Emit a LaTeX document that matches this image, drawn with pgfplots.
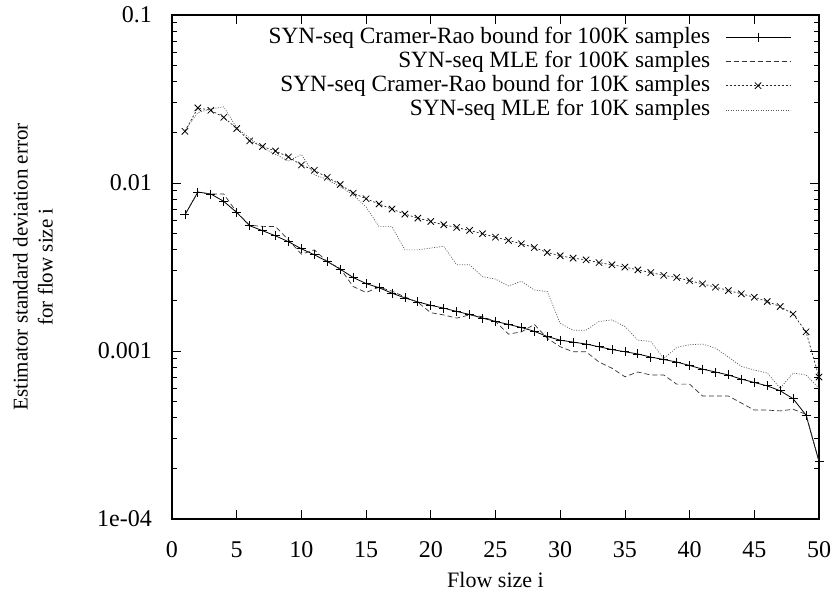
\documentclass[border=0pt]{standalone}
\usepackage{fontspec}
\setmainfont{Liberation Serif}
\usepackage{pgfplots}
\pgfplotsset{compat=1.18}
\usepackage{pgfplotstable}

\pgfplotstableread{
i v
1 0.00647
2 0.00884
3 0.0086
4 0.00778
5 0.00668
6 0.00557
7 0.0052
8 0.00485
9 0.00447
10 0.00406
11 0.00374
12 0.00341
13 0.00307
14 0.00274
15 0.00252
16 0.00238
17 0.00221
18 0.00207
19 0.00196
20 0.00187
21 0.00180
22 0.00172
23 0.00165
24 0.00157
25 0.00150
26 0.00144
27 0.00138
28 0.00131
29 0.00122
30 0.00116
31 0.00113
32 0.00110
33 0.00106
34 0.00102
35 0.00099
36 0.00096
37 0.00092
38 0.00089
39 0.00086
40 0.00082
41 0.00078
42 0.00075
43 0.00072
44 0.00068
45 0.00065
46 0.00062
47 0.00058
48 0.00052
49 0.000415
50 0.00022
}\crhk

\pgfplotstableread{
i v
1 0.00647
2 0.0088
3 0.0086
4 0.0086
5 0.0067
6 0.0056
7 0.00552
8 0.0055
9 0.00459
10 0.00377
11 0.0040
12 0.0034
13 0.0031
14 0.00242
15 0.00223
16 0.0024
17 0.00227
18 0.0021
19 0.00195
20 0.00169
21 0.00164
22 0.00157
23 0.00164
24 0.0016
25 0.0015
26 0.00126
27 0.0013
28 0.00144
29 0.00119
30 0.00106
31 0.00099
32 0.00099
33 0.00086
34 0.00079
35 0.000703
36 0.00075
37 0.00072
38 0.00072
39 0.000635
40 0.000635
41 0.00054
42 0.00054
43 0.00054
44 0.00049
45 0.000445
46 0.000445
47 0.00044
48 0.00045
49 0.00042
50 0.00022
}\mlehk

\pgfplotstableread{
i v
1 0.0203
2 0.028
3 0.0271
4 0.0246
5 0.0211
6 0.0178
7 0.0165
8 0.0155
9 0.0143
10 0.0128
11 0.0119
12 0.0108
13 0.0098
14 0.0087
15 0.00806
16 0.0075
17 0.0070
18 0.00653
19 0.00618
20 0.0059
21 0.00564
22 0.00544
23 0.00522
24 0.00499
25 0.00476
26 0.00455
27 0.00435
28 0.00413
29 0.00386
30 0.00369
31 0.00357
32 0.00349
33 0.00336
34 0.00326
35 0.00316
36 0.00304
37 0.00293
38 0.00282
39 0.00274
40 0.00262
41 0.00251
42 0.0024
43 0.00229
44 0.00219
45 0.00209
46 0.00197
47 0.00184
48 0.00166
49 0.0013
50 0.0007
}\crtk

\pgfplotstableread{
i v
1 0.0206
2 0.0262
3 0.0276
4 0.0284
5 0.0213
6 0.0185
7 0.0162
8 0.0148
9 0.0135
10 0.0148
11 0.0112
12 0.0105
13 0.0095
14 0.0085
15 0.0072
16 0.0055
17 0.0055
18 0.0040
19 0.0040
20 0.0041
21 0.0042
22 0.00326
23 0.00326
24 0.00277
25 0.00268
26 0.00244
27 0.0026
28 0.00231
29 0.00226
30 0.00146
31 0.00133
32 0.00133
33 0.0015
34 0.00153
35 0.0014
36 0.00116
37 0.00114
38 0.0009
39 0.00105
40 0.00109
41 0.0011
42 0.00104
43 0.00092
44 0.00081
45 0.00077
46 0.00074
47 0.0006
48 0.00074
49 0.00072
50 0.0006
}\mletk

\begin{document}
\fontsize{24bp}{28bp}\selectfont
\begin{tikzpicture}
\begin{axis}[
  name=ax,
  scale only axis,
  width=647bp, height=504bp,
  xmin=0, xmax=50,
  ymode=log, ymin=1e-4, ymax=0.1,
  xtick={0,5,...,50},
  ytick={0.0001,0.001,0.01,0.1},
  yticklabels={1e-04,0.001,0.01,0.1},
  tick align=inside,
  major tick length=9bp,
  minor tick length=5bp,
  axis line style={line width=1.1pt},
  every tick/.style={black, line width=0.8pt},
  /pgf/number format/assume math mode=true,
  tick label style={font=\fontsize{24bp}{28bp}\selectfont},
  xticklabel style={yshift=-14.5bp},
  yticklabel style={xshift=-12bp},
  xlabel={Flow size i},
  ylabel={Estimator standard deviation error\\for flow size i},
  xlabel style={font=\fontsize{22bp}{25bp}\selectfont, inner sep=0pt, at={(rel axis cs:0.5,-0.121)}, anchor=center},
  ylabel style={font=\fontsize{21bp}{25bp}\selectfont, align=center, at={(rel axis cs:-0.2148,0.5)}, anchor=center},
  legend cell align=right,
  legend plot pos=right,
  legend style={draw=none, fill=none, at={(rel axis cs:0.9567,0.978)}, anchor=north east,
    font=\fontsize{23.3bp}{28bp}\selectfont, inner sep=0pt, outer sep=0pt,
    row sep=2.3bp, column sep=15bp,
    nodes={inner sep=0pt, text height=17bp, text depth=5bp}},
  legend image code/.code={%
    \draw[mark repeat=2,mark phase=2,#1] plot coordinates {(0bp,0bp) (32.5bp,0bp) (65bp,0bp)};},
]
\addplot[black, line width=0.8pt, mark=+, mark size=4.5bp, mark options={solid, line width=0.8pt}] table[x=i,y=v] {\crhk};
\addlegendentry{SYN-seq Cramer-Rao bound for 100K samples}
\addplot[black!80, line width=0.7pt, dash pattern=on 5bp off 3bp] table[x=i,y=v] {\mlehk};
\addlegendentry{SYN-seq MLE for 100K samples}
\addplot[black!85, line width=0.7pt, dash pattern=on 2bp off 2bp, mark=x, mark size=4.5bp, mark options={solid, line width=0.8pt, black}] table[x=i,y=v] {\crtk};
\addlegendentry{SYN-seq Cramer-Rao bound for 10K samples}
\addplot[black!65, line width=0.7pt, dash pattern=on 1bp off 1.5bp] table[x=i,y=v] {\mletk};
\addlegendentry{SYN-seq MLE for 10K samples}
\end{axis}
\pgfresetboundingbox
\path[use as bounding box] ([shift={(-172bp,-77bp)}]ax.south west) rectangle ([shift={(19bp,15bp)}]ax.north east);
\end{tikzpicture}
\end{document}
